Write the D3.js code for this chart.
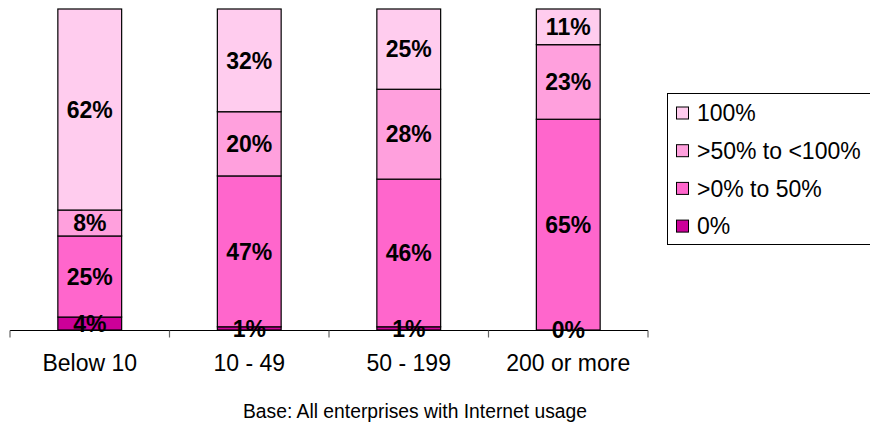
<!DOCTYPE html>
<html>
<head>
<meta charset="utf-8">
<script src="https://cdn.jsdelivr.net/npm/d3@7"></script>
<style>
  html, body { margin: 0; padding: 0; background: #fff; }
  svg { display: block; font-family: "Liberation Sans", Arial, sans-serif; }
</style>
</head>
<body>
<svg id="chart" width="870" height="434"></svg>
<script>
// Enterprise size classes
const categories = ["Below 10", "10 - 49", "50 - 199", "200 or more"];

// Share of enterprises per band (percent)
const seriesNames = ["0%", ">0% to 50%", ">50% to <100%", "100%"];
const zeroShare   = [4, 1, 1, 0];
const upTo50      = [25, 47, 46, 65];
const over50      = [8, 20, 28, 23];
const fullShare   = [62, 32, 25, 11];

const seriesValues = [zeroShare, upTo50, over50, fullShare];
const colors = ["#CC0099", "#FF66CC", "#FFA0DD", "#FFCCEE"];

const footnote = "Base: All enterprises with Internet usage";

const rows = categories.map((c, i) => {
  const r = { category: c };
  seriesNames.forEach((s, j) => r[s] = seriesValues[j][i]);
  return r;
});

const svg = d3.select("#chart");

const x = d3.scaleBand().domain(categories).range([10, 648]).padding(0);
const y = d3.scaleLinear().domain([0, 1]).range([330, 9]);
const barW = x.bandwidth() * 0.4;

const stacked = d3.stack().keys(seriesNames).offset(d3.stackOffsetExpand)(rows);

const layer = svg.append("g").selectAll("g")
  .data(stacked)
  .join("g")
  .attr("fill", (d, i) => colors[i]);

layer.selectAll("rect")
  .data(d => d)
  .join("rect")
  .attr("x", d => x(d.data.category) + (x.bandwidth() - barW) / 2)
  .attr("y", d => y(d[1]))
  .attr("width", barW)
  .attr("height", d => y(d[0]) - y(d[1]))
  .attr("stroke", "#000")
  .attr("stroke-width", 1.2);

// Axis line with ticks at band boundaries
const axisY = y(0) + 0.5;
const tickXs = categories.map(c => x(c)).concat([x.range()[1]]);
svg.append("line")
  .attr("x1", x.range()[0]).attr("x2", x.range()[1])
  .attr("y1", axisY).attr("y2", axisY)
  .attr("stroke", "#000").attr("stroke-width", 1.2);
svg.append("g").selectAll("line")
  .data(tickXs)
  .join("line")
  .attr("x1", d => d).attr("x2", d => d)
  .attr("y1", axisY).attr("y2", axisY + 7)
  .attr("stroke", "#666").attr("stroke-width", 1.2);

// Value labels in the middle of each segment
const labels = svg.append("g")
  .attr("font-weight", "bold")
  .attr("font-size", 23)
  .attr("text-anchor", "middle")
  .attr("fill", "#000");
stacked.forEach((s, j) => {
  labels.selectAll(null)
    .data(s)
    .join("text")
    .attr("x", d => x(d.data.category) + x.bandwidth() / 2)
    .attr("y", d => y((d[0] + d[1]) / 2))
    .attr("dy", "0.36em")
    .text(d => d.data[s.key] + "%");
});

// Category labels
svg.append("g").selectAll("text")
  .data(categories)
  .join("text")
  .attr("x", d => x(d) + x.bandwidth() / 2)
  .attr("y", 371)
  .attr("text-anchor", "middle")
  .attr("font-size", 23)
  .attr("fill", "#000")
  .text(d => d);

// Legend (top entry is the top of the stack)
const legend = svg.append("g");
legend.append("rect")
  .attr("x", 667.5).attr("y", 93.5)
  .attr("width", 210).attr("height", 151)
  .attr("fill", "#fff").attr("stroke", "#000").attr("stroke-width", 1);
const legendOrder = seriesNames.map((n, i) => ({ name: n, color: colors[i] })).reverse();
const item = legend.selectAll("g.item")
  .data(legendOrder)
  .join("g")
  .attr("class", "item")
  .attr("transform", (d, i) => `translate(0, ${113 + i * 37.7})`);
item.append("rect")
  .attr("x", 676.5).attr("y", -6)
  .attr("width", 12).attr("height", 12)
  .attr("fill", d => d.color)
  .attr("stroke", "#000").attr("stroke-width", 1);
item.append("text")
  .attr("x", 697)
  .attr("dy", "0.36em")
  .attr("font-size", 23)
  .attr("fill", "#000")
  .text(d => d.name);

// Footnote
svg.append("text")
  .attr("x", 415).attr("y", 418)
  .attr("text-anchor", "middle")
  .attr("font-size", 19.3)
  .attr("fill", "#000")
  .text(footnote);
</script>
</body>
</html>
